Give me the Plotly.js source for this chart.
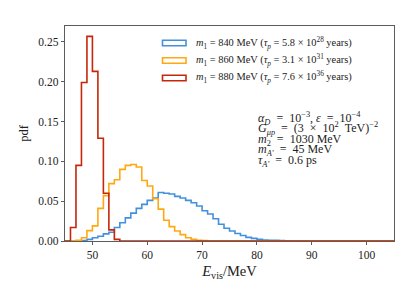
<!DOCTYPE html>
<html>
<head>
<meta charset="utf-8">
<script src="https://cdn.plot.ly/plotly-3.0.1.min.js"></script>
<style>html,body{margin:0;padding:0;background:#fff;}#chart{width:407px;height:285px;}</style>
</head>
<body>
<div id="chart"></div>
<script>
// Histogram bin edges: 1 MeV bins starting at 45 MeV
const binStart = 45;
const binWidth = 1;
const binEnd = 105;

// pdf values per bin, first value is the bin [45,46)
const blue840 = [0, 0, 0, 0.0005, 0.002, 0.004, 0.006, 0.009, 0.011, 0.017, 0.023, 0.029, 0.035, 0.041, 0.046, 0.051, 0.054, 0.061, 0.060, 0.059, 0.056, 0.054, 0.051, 0.048, 0.044, 0.038, 0.034, 0.028, 0.021, 0.016, 0.0125, 0.0095, 0.007, 0.0046, 0.0033, 0.002, 0.0013, 0.001, 0.0008, 0.0005, 0.0003];
const orange860 = [0, 0, 0.001, 0.004, 0.013, 0.019, 0.041, 0.057, 0.072, 0.077, 0.090, 0.095, 0.096, 0.093, 0.076, 0.069, 0.053, 0.040, 0.026, 0.018, 0.0125, 0.008, 0.004, 0.002, 0.001, 0.0005];
const red880 = [0, 0.017, 0.095, 0.199, 0.257, 0.213, 0.129, 0.060, 0.014, 0.002];

const S = '\u2002'; // wider math spacing (en space)
const legendLabels = [
  '<i>m</i><sub>1</sub> = 840 MeV (<i>τ</i><sub><i>p</i></sub> = 5.8 × 10<sup>28</sup> years)',
  '<i>m</i><sub>1</sub> = 860 MeV (<i>τ</i><sub><i>p</i></sub> = 3.1 × 10<sup>31</sup> years)',
  '<i>m</i><sub>1</sub> = 880 MeV (<i>τ</i><sub><i>p</i></sub> = 7.6 × 10<sup>36</sup> years)'
];
const paramLines = [
  '<i>α</i><sub><i>D</i></sub>' + S + '=' + S + '10<sup>−3</sup>, <i>ε</i>' + S + '=' + S + '10<sup>−4</sup>',
  '<i>G</i><sub><i>μp</i></sub>' + S + '=' + S + '(3' + S + '×' + S + '10<sup>2</sup>' + S + 'TeV)<sup>−2</sup>',
  '<i>m</i><sub>2</sub>' + S + '=' + S + '1030 MeV',
  '<i>m</i><sub><i>A′</i></sub>' + S + '=' + S + '45 MeV',
  '<i>τ</i><sub><i>A′</i></sub>' + S + '=' + S + '0.6 ps'
];
const yTickVals = [0, 0.05, 0.10, 0.15, 0.20, 0.25];
const xTickVals = [50, 60, 70, 80, 90, 100];

const colors = ['#4391dc', '#ffa812', '#c6270b'];
const series = [blue840, orange860, red880];

function stepTrace(vals, color) {
  const n = Math.round((binEnd - binStart) / binWidth);
  const x = [binStart], y = [0];
  for (let i = 0; i < n; i++) {
    x.push(binStart + i * binWidth);
    y.push(i < vals.length ? vals[i] : 0);
  }
  x.push(binEnd); y.push(0);
  return {x: x, y: y, type: 'scatter', mode: 'lines',
    line: {shape: 'hv', color: color, width: 1.6}, showlegend: false, hoverinfo: 'skip', cliponaxis: true};
}

const traces = series.map((s, i) => stepTrace(s, colors[i]));

// plot area in pixels
const W = 407, H = 285;
const L = 65, R = 394, T = 26, B = 241;
const px = v => (v - L) / (R - L);
const py = v => 1 - (v - T) / (B - T);

const font = 'Liberation Serif, DejaVu Serif, serif';
const shapes = [];
const annotations = [];
const legRows = [43, 60.5, 78];
legRows.forEach((yc, i) => {
  shapes.push({type: 'rect', xref: 'paper', yref: 'paper',
    x0: px(162.5), x1: px(186), y0: py(yc + 2.8), y1: py(yc - 2.8),
    line: {color: colors[i], width: 1.6}, fillcolor: 'rgba(0,0,0,0)'});
  annotations.push({xref: 'paper', yref: 'paper', x: px(194), y: py(yc), xanchor: 'left', yanchor: 'middle',
    text: legendLabels[i], showarrow: false, font: {family: font, size: 10.4, color: '#222'}});
});
const paramRows = [118, 128.5, 139.5, 150, 160.5];
paramLines.forEach((t, i) => {
  annotations.push({xref: 'paper', yref: 'paper', x: px(256), y: py(paramRows[i]), xanchor: 'left', yanchor: 'middle',
    text: t, showarrow: false, font: {family: font, size: 12, color: '#222'}});
});

const layout = {
  width: W, height: H,
  margin: {l: L, r: W - R, t: T, b: H - B},
  paper_bgcolor: '#fff', plot_bgcolor: '#fff',
  font: {family: font, size: 11, color: '#222'},
  xaxis: {range: [45, 105], tickvals: xTickVals, ticks: 'outside', ticklen: 3.5, tickwidth: 0.8, tickcolor: '#333',
    showline: true, linecolor: '#333', linewidth: 0.8, mirror: true, showgrid: false, zeroline: false,
    tickfont: {family: font, size: 11.5, color: '#222'},
    title: {text: '<i>E</i><sub>vis</sub>/MeV', font: {family: font, size: 14.5, color: '#222'}, standoff: 5}},
  yaxis: {range: [0, 0.27], tickvals: yTickVals, tickformat: '.2f', ticks: 'outside', ticklen: 3.5, tickwidth: 0.8, tickcolor: '#333',
    showline: true, linecolor: '#333', linewidth: 0.8, mirror: true, showgrid: false, zeroline: false,
    tickfont: {family: font, size: 11.5, color: '#222'},
    title: {text: 'pdf', font: {family: font, size: 12.5, color: '#222'}, standoff: 6}},
  shapes: shapes,
  annotations: annotations
};

Plotly.newPlot('chart', traces, layout, {staticPlot: true, displayModeBar: false});
</script>
</body>
</html>
